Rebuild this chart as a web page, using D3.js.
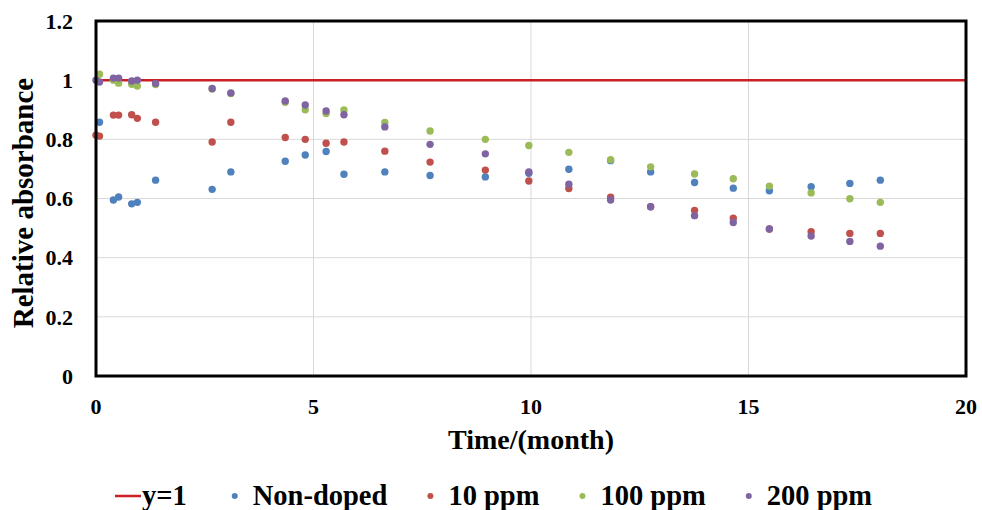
<!DOCTYPE html>
<meta charset="utf-8">
<style>
body { margin: 0; padding: 0; background: #fff; }
svg { display: block; }
text { font-family: "Liberation Serif", "Times New Roman", serif; font-weight: bold; fill: #000; }
</style>
<body>
<svg id="chart" width="982" height="510"></svg>
<script src="https://cdnjs.cloudflare.com/ajax/libs/d3/7.8.5/d3.min.js"></script>
<script>

// time in months, shared by every series (null = no visible point)
var times = [0, 0.08, 0.4, 0.52, 0.82, 0.95, 1.37, 2.67, 3.1, 4.35, 4.81, 5.29, 5.7, 6.64, 7.68, 8.95, 9.95, 10.87, 11.83, 12.75, 13.76, 14.65, 15.48, 16.44, 17.33, 18.03];

var nonDoped = [null, 0.858, 0.595, 0.605, 0.582, 0.587, 0.662, 0.631, 0.69, 0.726, 0.747, 0.759, 0.682, 0.69, 0.678, 0.673, 0.685, 0.699, 0.728, 0.69, 0.654, 0.635, 0.626, 0.64, 0.651, 0.662];
var ppm10 = [0.814, 0.811, 0.882, 0.882, 0.883, 0.871, 0.858, 0.791, 0.858, 0.806, 0.8, 0.787, 0.791, 0.76, 0.723, 0.696, 0.659, 0.634, 0.604, 0.572, 0.56, 0.533, 0.497, 0.488, 0.482, 0.482];
var ppm100 = [null, 1.02, 1.0, 0.99, 0.986, 0.98, 0.985, 0.97, 0.955, 0.925, 0.9, 0.887, 0.899, 0.857, 0.828, 0.8, 0.779, 0.756, 0.731, 0.707, 0.683, 0.667, 0.642, 0.619, 0.599, 0.587];
var ppm200 = [1.0, 0.994, 1.007, 1.007, 0.997, 1.0, 0.989, 0.972, 0.957, 0.93, 0.916, 0.896, 0.883, 0.842, 0.783, 0.751, 0.69, 0.648, 0.595, 0.572, 0.542, 0.519, 0.497, 0.473, 0.455, 0.439];

var refLine = [[0, 1], [20, 1]];

var seriesNames = ["Non-doped", "10 ppm", "100 ppm", "200 ppm"];
var seriesValues = [nonDoped, ppm10, ppm100, ppm200];
var seriesColors = ["#4F81BD", "#C0504D", "#9BBB59", "#8064A2"];
var lineColor = "#CC1F24";

var xTicks = [0, 5, 10, 15, 20];
var yTicks = [0, 0.2, 0.4, 0.6, 0.8, 1, 1.2];

var svg = d3.select("#chart");
var pLeft = 96, pRight = 966, pTop = 21, pBottom = 376;

var x = d3.scaleLinear().domain([0, 20]).range([pLeft, pRight]);
var y = d3.scaleLinear().domain([0, 1.2]).range([pBottom, pTop]);

// grid
svg.append("g").selectAll("line").data(xTicks.slice(1, -1)).join("line")
  .attr("x1", d => x(d)).attr("x2", d => x(d))
  .attr("y1", pTop).attr("y2", pBottom)
  .attr("stroke", "#D9D9D9").attr("stroke-width", 1);
svg.append("g").selectAll("line").data(yTicks.slice(1, -1)).join("line")
  .attr("x1", pLeft).attr("x2", pRight)
  .attr("y1", d => y(d)).attr("y2", d => y(d))
  .attr("stroke", "#D9D9D9").attr("stroke-width", 1);

// y = 1 line
svg.append("path")
  .datum(refLine)
  .attr("d", d3.line().x(d => x(d[0])).y(d => y(d[1])))
  .attr("stroke", lineColor).attr("stroke-width", 2.5).attr("fill", "none");

// points
seriesValues.forEach(function(vals, i) {
  var pts = times.map((t, j) => [t, vals[j]]).filter(p => p[1] != null);
  svg.append("g").selectAll("circle").data(pts).join("circle")
    .attr("cx", d => x(d[0])).attr("cy", d => y(d[1]))
    .attr("r", 3.7).attr("fill", seriesColors[i]);
});

// frame
svg.append("rect")
  .attr("x", pLeft).attr("y", pTop)
  .attr("width", pRight - pLeft).attr("height", pBottom - pTop)
  .attr("fill", "none").attr("stroke", "#000").attr("stroke-width", 3);

// tick labels
svg.append("g").selectAll("text").data(yTicks).join("text")
  .attr("x", 73).attr("y", d => y(d)).attr("dy", "0.35em")
  .attr("text-anchor", "end").attr("font-size", 22)
  .text(d => d);
svg.append("g").selectAll("text").data(xTicks).join("text")
  .attr("x", d => x(d)).attr("y", 414)
  .attr("text-anchor", "middle").attr("font-size", 22)
  .text(d => d);

// axis titles
svg.append("text")
  .attr("x", 531).attr("y", 449)
  .attr("text-anchor", "middle").attr("font-size", 28)
  .text("Time/(month)");
svg.append("text")
  .attr("transform", "translate(33,203) rotate(-90)")
  .attr("text-anchor", "middle").attr("font-size", 29)
  .text("Relative absorbance");

// legend
var legend = svg.append("g");
var lx = 115, ly = 496;
legend.append("line")
  .attr("x1", lx).attr("x2", lx + 26).attr("y1", ly).attr("y2", ly)
  .attr("stroke", lineColor).attr("stroke-width", 2.5);
var t0 = legend.append("text").attr("x", lx + 27).attr("y", ly + 9)
  .attr("font-size", 28.5).text("y=1");
lx += 27 + t0.node().getComputedTextLength() + 48;
seriesNames.forEach(function(name, i) {
  legend.append("circle").attr("cx", lx).attr("cy", ly).attr("r", 3).attr("fill", seriesColors[i]);
  var t = legend.append("text").attr("x", lx + 18).attr("y", ly + 9)
    .attr("font-size", 28.5).text(name);
  lx += 18 + t.node().getComputedTextLength() + 43;
});

</script>
</body>
